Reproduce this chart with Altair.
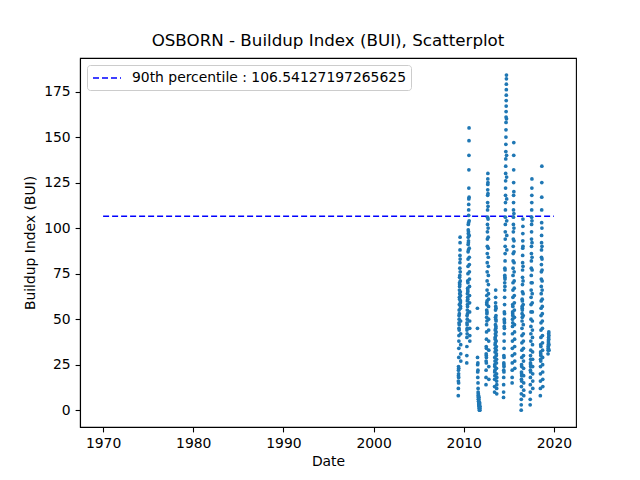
"""OSBORN Buildup Index scatterplot with 90th percentile line."""

import altair as alt
import pandas as pd

# BUI readings per fire season: (first date, days between readings, values)
bui_2009 = [8, 12, 16, 19, 22, 24, 20, 15, 18, 23, 29, 34, 38, 41, 45, 48, 52, 55,
            50, 44, 47, 53, 58, 62, 66, 70, 73, 68, 61, 64, 69, 74, 78, 81, 85, 88,
            92, 95, 83, 76, 71, 65, 59, 56, 60, 63, 57, 49, 42, 36, 31, 27]
bui_2010 = [26, 30, 35, 40, 44, 48, 52, 47, 42, 45, 50, 55, 60, 64, 58, 53, 57, 62,
            67, 71, 66, 61, 65, 70, 75, 79, 83, 87, 91, 95, 99, 102, 97, 92, 88, 93,
            98, 103, 107, 110, 113, 116, 122, 132, 140, 148, 155, 117, 104, 96, 89,
            84, 80, 76, 72, 68, 63, 59, 54, 49, 45, 41, 38]
bui_2011 = [56, 45, 29, 25, 21, 18, 26, 22, 15, 12, 10, 8, 9, 7, 6, 5, 8, 6, 4, 3,
            5, 7, 4, 2, 3, 1, 2, 0, 1, 3, 2, 4, 1, 0, 2]
bui_2012 = [14, 18, 22, 27, 31, 35, 30, 26, 29, 34, 39, 43, 47, 51, 55, 59, 63, 58,
            53, 49, 54, 60, 66, 71, 76, 81, 86, 90, 94, 98, 102, 106, 110, 114, 118,
            121, 124, 127, 130, 125, 119, 112, 105, 100, 95, 89, 84, 79, 74, 69, 64,
            61, 57, 50, 44, 38, 33, 24, 17]
bui_2013 = [10, 13, 17, 21, 25, 29, 24, 19, 22, 27, 32, 36, 40, 44, 39, 34, 37, 42,
            47, 51, 55, 59, 62, 66, 57, 50, 45, 41, 46, 52, 56, 49, 43, 38, 33, 30,
            35, 31, 26, 23, 28, 20, 16, 12, 9, 14, 18]
bui_2014 = [7, 10, 14, 18, 22, 26, 30, 25, 21, 24, 29, 34, 38, 42, 46, 50, 54, 49,
            45, 48, 53, 58, 62, 66, 70, 74, 78, 73, 68, 72, 77, 82, 86, 90, 94, 98,
            102, 106, 110, 114, 118, 122, 126, 130, 134, 138, 142, 146, 150, 154,
            158, 161, 164, 167, 170, 173, 176, 179, 182, 184, 160, 140, 128, 116,
            104, 96, 88]
bui_2015 = [15, 18, 22, 26, 30, 34, 38, 42, 46, 50, 54, 58, 53, 48, 52, 57, 62, 66,
            70, 74, 78, 82, 86, 90, 94, 98, 102, 106, 110, 114, 118, 125, 132, 140,
            147, 120, 108, 100, 93, 87, 81, 76, 71, 67, 63, 59, 55, 51, 47, 43, 39,
            35, 31, 27, 23]
bui_2016 = [0, 3, 6, 9, 13, 17, 21, 25, 20, 16, 19, 24, 29, 33, 37, 41, 45, 49, 53,
            57, 61, 56, 51, 55, 60, 65, 69, 73, 77, 81, 85, 89, 93, 97, 101, 105, 90,
            79, 71, 64, 58, 52, 47, 42, 38, 34, 30, 27, 23, 19, 15, 11, 8]
bui_2017 = [3, 6, 10, 14, 18, 22, 26, 30, 25, 21, 24, 28, 33, 38, 42, 46, 50, 54,
            58, 62, 66, 70, 74, 78, 82, 86, 90, 94, 98, 102, 106, 110, 114, 118, 122,
            127, 104, 92, 84, 77, 70, 64, 59, 54, 49, 44, 40, 36, 32, 28, 24, 20, 16,
            12]
bui_2018 = [8, 12, 16, 20, 24, 28, 32, 36, 31, 27, 30, 35, 40, 44, 48, 52, 56, 60,
            64, 68, 72, 76, 80, 84, 88, 92, 96, 103, 110, 117, 125, 134, 100, 90, 83,
            77, 71, 66, 61, 57, 53, 49, 45, 41, 37, 33, 29, 25, 21, 17, 13]
bui_2019 = [31, 33, 35, 34, 36, 38, 37, 40, 42, 39, 43, 41, 36, 33]

seasons = [
    ("2009-05-25", 2, bui_2009),
    ("2010-05-04", 2, bui_2010),
    ("2011-07-09", 3, bui_2011),
    ("2012-06-21", 2, bui_2012),
    ("2013-06-02", 2, bui_2013),
    ("2014-06-02", 2, bui_2014),
    ("2015-05-15", 2, bui_2015),
    ("2016-05-17", 2, bui_2016),
    ("2017-05-16", 2, bui_2017),
    ("2018-07-01", 2, bui_2018),
    ("2019-05-10", 3, bui_2019),
]

pctl_dates = ["1970-01-01", "2019-12-31"]
pctl_value = 106.54127197265625
pctl_label = f"90th percentile : {pctl_value}"

x_ticks = [1970, 1980, 1990, 2000, 2010, 2020]
y_ticks = [0, 25, 50, 75, 100, 125, 150, 175]

rows = []
for start, step, vals in seasons:
    t0 = pd.Timestamp(start)
    for i, v in enumerate(vals):
        rows.append({"date": (t0 + pd.Timedelta(days=step * i)).strftime("%Y-%m-%d"),
                     "bui": v})
df = pd.DataFrame(rows)

df_line = pd.DataFrame({"date": pctl_dates,
                        "bui": [pctl_value, pctl_value],
                        "label": [pctl_label, pctl_label]})

FONT = "DejaVu Sans"

x_enc = alt.X(
    "date:T",
    title="Date",
    scale=alt.Scale(domain=[alt.DateTime(year=1967, month=6, date=10),
                            alt.DateTime(year=2022, month=6, date=15)]),
    axis=alt.Axis(values=[alt.DateTime(year=y, month=1, date=1) for y in x_ticks],
                  format="%Y", titlePadding=4),
)
y_enc = alt.Y(
    "bui:Q",
    title="Buildup Index (BUI)",
    scale=alt.Scale(domain=[-9.2, 193.4], nice=False, zero=False),
    axis=alt.Axis(values=y_ticks, titlePadding=6),
)

points = alt.Chart(df).mark_circle(size=14, color="#1f77b4", opacity=1).encode(
    x=x_enc, y=y_enc
)

line = alt.Chart(df_line).mark_line(strokeDash=[6, 3], strokeWidth=1.6).encode(
    x="date:T",
    y="bui:Q",
    color=alt.Color(
        "label:N",
        scale=alt.Scale(range=["#0000ff"]),
        legend=alt.Legend(
            title=None,
            orient="none",
            legendX=7,
            legendY=7,
            # wide dashed stroke drawn from a short symbol so the row stays low
            symbolType="M-2,0H2",
            symbolDash=[6, 3],
            symbolStrokeWidth=1.6,
            symbolSize=196,
            symbolOffset=7,
            labelOffset=17,
            labelLimit=0,
            labelFont=FONT,
            labelFontSize=13.9,
            labelColor="black",
            padding=5,
            fillColor="white",
            strokeColor="#cccccc",
            cornerRadius=3,
        ),
    ),
)

chart = (
    alt.layer(line, points)
    .properties(
        width=496,
        height=369,
        title=alt.TitleParams("OSBORN - Buildup Index (BUI), Scatterplot",
                              font=FONT, fontSize=16.7, fontWeight="normal",
                              color="black", offset=8),
        autosize=alt.AutoSizeParams(type="none"),
        padding={"left": 72, "top": 50, "right": 56, "bottom": 45},
    )
    .configure_view(stroke="black", strokeWidth=1.1)
    .configure_axis(
        grid=False,
        domainColor="black",
        domainWidth=1.1,
        tickColor="black",
        tickWidth=1.1,
        tickSize=4.9,
        labelPadding=4.9,
        labelFont=FONT,
        labelFontSize=13.9,
        labelColor="black",
        titleFont=FONT,
        titleFontSize=13.9,
        titleFontWeight="normal",
        titleColor="black",
    )
)

chart.save("out.html", embed_options={"renderer": "svg", "actions": False})
